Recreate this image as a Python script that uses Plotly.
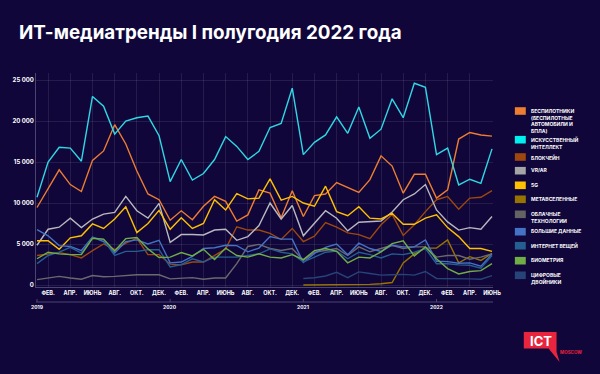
import plotly.graph_objects as go

# ---------------- data ----------------
YEARS = [2019, 2020, 2021, 2022]
MONTH_ABBR = ["ЯНВ.", "ФЕВ.", "МАРТ", "АПР.", "МАЙ", "ИЮНЬ",
              "ИЮЛЬ", "АВГ.", "СЕНТ.", "ОКТ.", "НОЯБ.", "ДЕК."]
months = [f"{y}-{m:02d}" for y in YEARS for m in range(1, 13)][:42]

drones = [9450, 11800, 14050, 12250, 11400, 15200, 16350, 19550, 17200, 13900, 11100, 10400,
          7900, 9050, 7950, 9600, 10800, 10200, 7800, 8550, 11600, 11200, 8200, 11500,
          8350, 10900, 11100, 12500, 11850, 11300, 12850, 15750, 14500, 11200, 13500, 13500,
          10600, 11600, 17800, 18600, 18300, 18150]
ai = [10700, 15000, 16800, 16700, 15100, 23000, 21800, 18400, 20000, 20400, 20600, 18200,
      12600, 15300, 12800, 13600, 15300, 18100, 16900, 15300, 16300, 19200, 19700, 24000,
      15900, 17400, 18300, 20500, 18500, 21700, 17900, 19000, 22700, 20400, 24600, 24100,
      15900, 16700, 12200, 12900, 12400, 16600]
blockchain = [3600, 3800, 3950, 3700, 3300, 4200, 5000, 4300, 5100, 5700, 3700, 3700,
              2550, 2450, 2800, 2800, 3600, 4400, 7100, 6700, 6700, 6300, 5550, 6900,
              5300, 5950, 7600, 7050, 6350, 6150, 5650, 7350, 8600, 6050, 7350, 8950,
              10400, 10800, 9250, 10600, 10700, 11500]
vrar = [4850, 6800, 7050, 8150, 7000, 8050, 8650, 8850, 10800, 9050, 8150, 9950,
        5200, 6150, 6150, 6100, 6700, 6800, 5450, 5900, 7250, 10000, 8050, 9700,
        6000, 7500, 9050, 8150, 6600, 7650, 7750, 7800, 8900, 10400, 11100, 12250,
        9150, 7700, 6700, 7000, 6800, 8350]
g5 = [5400, 5400, 4350, 5750, 6000, 7450, 6900, 8050, 9550, 6400, 7500, 9100,
      6800, 8200, 6900, 7500, 10400, 9150, 11150, 10500, 10600, 12950, 10350, 10800,
      10000, 9600, 12050, 8950, 8450, 9550, 8150, 8050, 8750, 7400, 7400, 8150,
      8550, 7000, 5900, 4450, 4450, 4100]
metaverse = [None] * 24 + [0, 0, 0, 0, 20, 50, 80, 150, 300, 2700, 3800, 4500,
                           4500, 5500, 2700, 3450, 3000, 3850]
cloud = [650, 850, 1050, 850, 700, 1150, 1000, 1050, 1150, 1250, 1250, 1250,
         750, 850, 900, 700, 850, 850, 2600, 4700, 4950, 4450, 4200, 4450,
         3000, 4000, 4250, 4450, 3600, 4650, 4050, 4450, 4850, 4450, 4650, 4650,
         3400, 3600, 3600, 3150, 3400, 3800]
bigdata = [6750, 6000, 4800, 4700, 4200, 5850, 5300, 3900, 5300, 5500, 5000, 5450,
           2700, 2800, 3500, 4450, 4550, 4850, 4800, 4050, 4500, 5900, 5600, 5600,
           2750, 3850, 4600, 5000, 3700, 5100, 4450, 4100, 4850, 4650, 4650, 5500,
           2900, 2850, 2650, 2700, 2300, 3750]
iot = [2600, 3600, 4000, 4600, 3900, 5800, 5500, 3600, 4100, 4100, 4300, 4300,
       2200, 2500, 3200, 2800, 3400, 3400, 3400, 3600, 3800, 4400, 4000, 3800,
       2800, 3400, 4000, 4150, 3200, 4000, 3700, 3300, 3800, 3700, 4000, 4450,
       2600, 2600, 2450, 2400, 2050, 3600]
biometrics = [3200, 4000, 3800, 3700, 3700, 5700, 5600, 4150, 5650, 5800, 4400, 3350,
              3400, 3950, 3550, 4350, 3100, 4500, 3600, 3400, 3800, 3400, 3300, 3700,
              3100, 4200, 4450, 4100, 2700, 3400, 3300, 4050, 5050, 5400, 3550, 4650,
              3200, 2000, 1350, 1650, 1750, 2600]
twins = [None] * 24 + [800, 880, 1100, 1550, 900, 1600, 1400, 1200, 1250, 1300, 1200, 1650,
                       800, 800, 750, 750, 700, 1150]

series_names = ["БЕСПИЛОТНИКИ<br>(БЕСПИЛОТНЫЕ<br>АВТОМОБИЛИ И<br>БПЛА)",
                "ИСКУССТВЕННЫЙ<br>ИНТЕЛЛЕКТ", "БЛОКЧЕЙН", "VR/AR", "5G", "МЕТАВСЕЛЕННЫЕ",
                "ОБЛАЧНЫЕ<br>ТЕХНОЛОГИИ", "БОЛЬШИЕ ДАННЫЕ", "ИНТЕРНЕТ ВЕЩЕЙ", "БИОМЕТРИЯ",
                "ЦИФРОВЫЕ<br>ДВОЙНИКИ"]
series_values = [drones, ai, blockchain, vrar, g5, metaverse, cloud, bigdata, iot, biometrics, twins]
series_colors = ["#ED7D31", "#2FD8E4", "#9E480E", "#B8B8BE", "#FFC000", "#997300",
                 "#6A6A6E", "#4472C4", "#255E91", "#70AD47", "#264478"]
legend_colors = ["#ED7D31", "#00F0F0", "#9E480E", "#A5A5A5", "#FFC000", "#997300",
                 "#636363", "#4472C4", "#255E91", "#70AD47", "#264478"]

y_ticks = [0, 5000, 10000, 15000, 20000, 25000]
y_ticktext = ["0", "5 000", "10 000", "15 000", "20 000", "25 000"]

# ---------------- layout geometry ----------------
W, H = 600, 374
L, R, T, B = 33, 107, 73, 87
PW, PH = W - L - R, H - T - B
BG = "#10063A"
FONT = "Inter"


def px_x(x):
    return (x - L) / PW


def px_y(y):
    return (H - B - y) / PH


fig = go.Figure()
for name, vals, col in zip(series_names, series_values, series_colors):
    fig.add_trace(go.Scatter(x=months, y=vals, mode="lines", name=name,
                             line=dict(color=col, width=1.4), showlegend=False,
                             connectgaps=False))

# x ticks every other month (Feb, Apr, ...)
tick_idx = [i for i in range(len(months)) if i % 2 == 1]
tickvals = [months[i] for i in tick_idx]
ticktext = [MONTH_ABBR[i % 12] for i in tick_idx]

shapes = []
annotations = []

# title
annotations.append(dict(text="ИТ-медиатренды I полугодия 2022 года", x=px_x(14), y=px_y(33),
                        xref="paper", yref="paper", xanchor="left", yanchor="middle",
                        showarrow=False, font=dict(family=FONT, size=18.8, color="white", weight="bold")))

# year axis line + labels
year_line_y = px_y(302)
shapes.append(dict(type="line", xref="paper", yref="paper", x0=0, x1=1,
                   y0=year_line_y, y1=year_line_y, line=dict(color="#4a4570", width=1)))
for yr in YEARS:
    cat = f"{yr}-01"
    shapes.append(dict(type="line", xref="x", yref="paper", x0=cat, x1=cat,
                       y0=year_line_y, y1=px_y(299), line=dict(color="#4a4570", width=1)))
    annotations.append(dict(text=str(yr), x=cat, y=px_y(307), xref="x", yref="paper",
                            xanchor="center", yanchor="middle", showarrow=False,
                            font=dict(family=FONT, size=5, color="white", weight="bold")))

# manual legend
sq_centers = [111, 139.7, 157, 170.7, 185.3, 199.3, 214.3, 231.7, 245.7, 260.7, 275.3]
for name, col, cy in zip(series_names, legend_colors, sq_centers):
    shapes.append(dict(type="rect", xref="paper", yref="paper",
                       x0=px_x(515), x1=px_x(526), y0=px_y(cy - 3.8), y1=px_y(cy + 3.8),
                       fillcolor=col, line=dict(width=0)))
    annotations.append(dict(text=name, x=px_x(530), y=px_y(cy - 4.3), xref="paper", yref="paper",
                            xanchor="left", yanchor="top", align="left", showarrow=False,
                            borderpad=0,
                            font=dict(family=FONT, size=5, color="white", weight="bold")))

# ICT.Moscow logo
RED = "#E8243F"
pts = [(524, 332), (557, 332), (557, 352), (560, 362), (549, 348.5), (524, 348.5)]
path = "M " + " L ".join(f"{px_x(a):.4f},{px_y(b):.4f}" for a, b in pts) + " Z"
shapes.append(dict(type="path", xref="paper", yref="paper", path=path,
                   fillcolor=RED, line=dict(width=0)))
annotations.append(dict(text="ICT", x=px_x(541), y=px_y(340.5), xref="paper", yref="paper",
                        xanchor="center", yanchor="middle", showarrow=False,
                        font=dict(family=FONT, size=13, color="white", weight="bold")))
annotations.append(dict(text="MOSCOW", x=px_x(558), y=px_y(352.5), xref="paper", yref="paper",
                        xanchor="left", yanchor="middle", showarrow=False,
                        font=dict(family=FONT, size=4.5, color=RED, weight="bold")))

fig.update_layout(
    width=W, height=H, autosize=False,
    margin=dict(l=L, r=R, t=T, b=B, pad=0),
    paper_bgcolor=BG, plot_bgcolor=BG,
    showlegend=False,
    shapes=shapes, annotations=annotations,
    xaxis=dict(type="category", range=[-0.09, 41.09], tickmode="array",
               tickvals=tickvals, ticktext=ticktext, showgrid=True,
               gridcolor="rgba(255,255,255,0.09)", gridwidth=1,
               showline=True, linecolor="#4a4570", linewidth=1, ticks="",
               tickfont=dict(family=FONT, size=5.5, color="white", weight="bold"),
               zeroline=False),
    yaxis=dict(range=[-244, 25854], tickmode="array", tickvals=y_ticks, ticktext=y_ticktext,
               showgrid=True, gridcolor="rgba(255,255,255,0.09)", gridwidth=1,
               showline=True, linecolor="#4a4570", linewidth=1, ticks="",
               tickfont=dict(family=FONT, size=6, color="white", weight="bold"),
               zeroline=False),
)

fig.write_html("out.html", config={"displayModeBar": False},
               post_script="document.body.style.margin='0px';"
                           "document.body.style.background='" + BG + "';")
